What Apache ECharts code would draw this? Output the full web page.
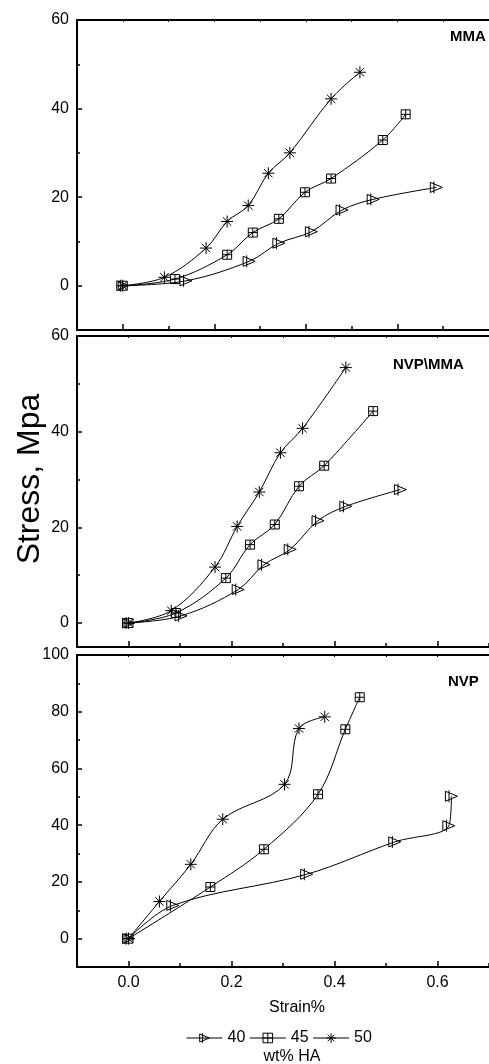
<!DOCTYPE html>
<html>
<head>
<meta charset="utf-8">
<script src="https://cdn.jsdelivr.net/npm/echarts@6/dist/echarts.min.js"></script>
<style>
  html, body { margin: 0; padding: 0; background: #fff; }
  #main { width: 489px; height: 1064px; }
</style>
</head>
<body>
<div id="main"></div>
<script>
// strain (x) and stress (y) per panel and wt% HA
const mma40x = [0, 0.138, 0.276, 0.341, 0.412, 0.479, 0.547, 0.685];
const mma40y = [0, 1.1, 5.5, 9.6, 12.2, 17.1, 19.5, 22.2];
const mma45x = [0, 0.114, 0.228, 0.284, 0.341, 0.398, 0.455, 0.568, 0.618];
const mma45y = [0, 1.5, 7.0, 12.0, 15.1, 21.1, 24.2, 32.9, 38.7];
const mma50x = [0, 0.091, 0.182, 0.228, 0.274, 0.318, 0.365, 0.455, 0.518];
const mma50y = [0, 1.9, 8.5, 14.5, 18.1, 25.4, 30.0, 42.2, 48.2];

const mix40x = [0, 0.102, 0.213, 0.263, 0.314, 0.368, 0.422, 0.528];
const mix40y = [0, 1.5, 7.0, 12.2, 15.4, 21.4, 24.4, 27.9];
const mix45x = [0, 0.092, 0.189, 0.236, 0.284, 0.331, 0.380, 0.475];
const mix45y = [0, 2.1, 9.4, 16.4, 20.6, 28.6, 32.9, 44.3];
const mix50x = [0, 0.083, 0.168, 0.211, 0.254, 0.295, 0.338, 0.422];
const mix50y = [0, 2.6, 11.7, 20.2, 27.4, 35.6, 40.7, 53.4];

const nvp40x = [0, 0.086, 0.346, 0.517, 0.622, 0.627];
const nvp40y = [0, 11.7, 22.7, 34.1, 39.8, 50.2];
const nvp45x = [0, 0.159, 0.263, 0.368, 0.421, 0.449];
const nvp45y = [0, 18.2, 31.5, 50.9, 73.8, 85.1];
const nvp50x = [0, 0.060, 0.121, 0.183, 0.303, 0.331, 0.381];
const nvp50y = [0, 13.1, 26.2, 42.1, 54.4, 74.1, 78.2];

const seriesNames = ['40', '45', '50'];
const panelNames = ['MMA', 'NVP\\MMA', 'NVP'];
const strainLabels = [0, 0.2, 0.4, 0.6];
const strainMinor = [0.1, 0.3, 0.5, 0.7];
const stressLabels = [[0, 20, 40, 60], [0, 20, 40, 60], [0, 20, 40, 60, 80, 100]];
const stressMinor = [[10, 30, 50], [10, 30, 50], [10, 30, 50, 70, 90]];

const panels = [
  { top: 20, height: 310, xMax: 0.8, yMin: -10, yMax: 60, data: [[mma40x, mma40y], [mma45x, mma45y], [mma50x, mma50y]] },
  { top: 336, height: 311, xMax: 0.7, yMin: -5, yMax: 60, data: [[mix40x, mix40y], [mix45x, mix45y], [mix50x, mix50y]] },
  { top: 655, height: 312, xMax: 0.7, yMin: -10, yMax: 100, data: [[nvp40x, nvp40y], [nvp45x, nvp45y], [nvp50x, nvp50y]] }
];

const symbols = [
  'path://M1,0 L11,5 L1,10 Z M4,-1 L4,11',
  'path://M0,0 H10 V10 H0 Z M5,0 V10 M0,5 H10',
  'path://M5,0 V10 M0,5 H10 M1.5,1.5 L8.5,8.5 M8.5,1.5 L1.5,8.5'
];
const symbolSizes = [[12, 12], 9, 12];

const font = 'Liberation Sans';
const black = '#000';
const hollow = { color: 'rgba(0,0,0,0)', borderColor: black, borderWidth: 1 };

const grid = [], xAxis = [], yAxis = [], series = [];
panels.forEach((p, i) => {
  grid.push({ left: 77, width: 420, top: p.top, height: p.height });
  const xBase = { gridIndex: i, type: 'value', min: -0.1, max: p.xMax, splitLine: { show: false } };
  xAxis.push(Object.assign({}, xBase, {
    position: 'bottom',
    axisLine: { onZero: false, lineStyle: { color: black, width: 2 } },
    axisTick: { inside: true, length: 6, customValues: strainLabels, lineStyle: { color: black, width: 1.5 } },
    axisLabel: {
      show: i === 2, customValues: strainLabels, margin: 8,
      formatter: v => v.toFixed(1), fontSize: 16, color: black, fontFamily: font
    }
  }));
  xAxis.push(Object.assign({}, xBase, {
    position: 'bottom',
    axisLine: { show: false, onZero: false },
    axisTick: { inside: true, length: 4, customValues: strainMinor, lineStyle: { color: black, width: 1.5 } },
    axisLabel: { show: false }
  }));
  xAxis.push(Object.assign({}, xBase, {
    position: 'top',
    axisLine: { onZero: false, lineStyle: { color: black, width: 2 } },
    axisTick: { inside: true, length: 2, customValues: strainLabels.concat(strainMinor), lineStyle: { color: black, width: 1 } },
    axisLabel: { show: false }
  }));
  const yBase = { gridIndex: i, type: 'value', min: p.yMin, max: p.yMax, position: 'left', splitLine: { show: false } };
  yAxis.push(Object.assign({}, yBase, {
    axisLine: { show: true, onZero: false, lineStyle: { color: black, width: 2 } },
    axisTick: { show: true, inside: true, length: 5, customValues: stressLabels[i], lineStyle: { color: black, width: 1.5 } },
    axisLabel: { customValues: stressLabels[i], margin: 8, fontSize: 16, color: black, fontFamily: font }
  }));
  yAxis.push(Object.assign({}, yBase, {
    axisLine: { show: false, onZero: false },
    axisTick: { show: true, inside: true, length: 3, customValues: stressMinor[i], lineStyle: { color: black, width: 1.5 } },
    axisLabel: { show: false }
  }));
  p.data.forEach((d, k) => {
    series.push({
      name: seriesNames[k],
      type: 'line',
      xAxisIndex: i * 3,
      yAxisIndex: i * 2,
      smooth: 0.35,
      symbol: symbols[k],
      symbolSize: symbolSizes[k],
      showAllSymbol: true,
      lineStyle: { color: black, width: 1 },
      itemStyle: hollow,
      emphasis: { disabled: true },
      z: 3 - k,
      data: d[0].map((x, j) => [x, d[1][j]])
    });
  });
});

const labelPos = [[450, 37], [393, 365], [448, 682]];
const graphic = panelNames.map((n, i) => ({
  type: 'text', left: labelPos[i][0], top: labelPos[i][1] - 8,
  style: { text: n, font: 'bold 15px "' + font + '"', fill: black }
}));
graphic.push(
  { type: 'text', x: 30, y: 479, rotation: Math.PI / 2,
    style: { text: 'Stress, Mpa', font: '32px "' + font + '"', fill: black, align: 'center', verticalAlign: 'middle' } },
  { type: 'text', x: 297, y: 1008,
    style: { text: 'Strain%', font: '16px "' + font + '"', fill: black, align: 'center', verticalAlign: 'middle' } },
  { type: 'text', x: 292, y: 1057,
    style: { text: 'wt% HA', font: '16px "' + font + '"', fill: black, align: 'center', verticalAlign: 'middle' } }
);

const chart = echarts.init(document.getElementById('main'), null, { renderer: 'canvas' });
chart.setOption({
  animation: false,
  backgroundColor: '#fff',
  textStyle: { fontFamily: font },
  grid,
  xAxis,
  yAxis,
  legend: {
    data: seriesNames,
    left: 181,
    top: 1025,
    itemWidth: 36,
    itemHeight: 12,
    itemGap: 4,
    itemStyle: hollow,
    lineStyle: { color: black, width: 1 },
    textStyle: { fontSize: 16, color: black, fontFamily: font },
    selectedMode: false
  },
  graphic,
  series
});
</script>
</body>
</html>
